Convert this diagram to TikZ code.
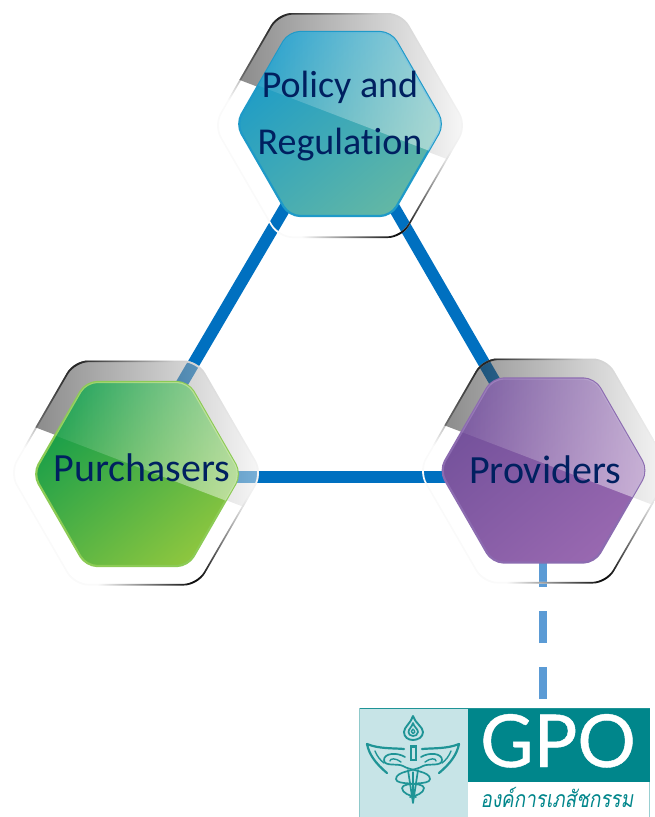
\documentclass[tikz,border=0pt]{standalone}
\usepackage{fontspec}
\usetikzlibrary{fadings}
\setmainfont[Ligatures=CommonOff]{Carlito}
\newfontfamily\logofont[FakeBold=0.6]{Lato}
\newfontfamily\thaifont[Script=Thai,FakeSlant=0.2]{Loma}
\definecolor{linkblue}{HTML}{0070C0}
\definecolor{dashblue}{HTML}{5B9BD5}
\definecolor{navy}{HTML}{002060}
\definecolor{gpoteal}{HTML}{00868B}
\definecolor{gpopale}{HTML}{C7E4E7}
\definecolor{gpoline}{HTML}{1F9496}
\definecolor{bluetl}{HTML}{1B9BC8}
\definecolor{bluebr}{HTML}{62B7A5}
\definecolor{blueed}{HTML}{1E9AC8}
\definecolor{greentl}{HTML}{129C4A}
\definecolor{greenbr}{HTML}{8CC63F}
\definecolor{greened}{HTML}{8CCB55}
\definecolor{purpletl}{HTML}{72509A}
\definecolor{purplebr}{HTML}{9868B0}
\definecolor{purpleed}{HTML}{8C6BB0}
\tikzfading[name=glossfade,left color=transparent!98,middle color=transparent!87,right color=transparent!50]
\def\innerhex{(-104,0) -- (-51,-92) -- (51,-92) -- (104,0) -- (51,92) -- (-51,92) -- cycle}
\def\outerhex{(-127,0) -- (-62,-112.5) -- (62,-112.5) -- (127,0) -- (62,112.5) -- (-62,112.5) -- cycle}
\def\outerhexin{(-125.2,0) -- (-61,-110.9) -- (61,-110.9) -- (125.2,0) -- (61,110.9) -- (-61,110.9) -- cycle}
\def\glossclip{(-135,-58.8) -- (135,44.3) -- (135,-125) -- (-135,-125) -- cycle}
% #1 inner centre, #2 outer centre, #3 top-left colour, #4 bottom-right colour, #5 edge colour
\newcommand{\glasshex}[5]{%
  \begin{scope}[shift={#2}]
    \begin{scope}[even odd rule]
      \clip[rounded corners=14pt] \outerhex \outerhexin;
      \fill[black!2] (-130,-120) rectangle (130,120);
      \shade[inner color=black,outer color=black!2] (-62,-112.5) circle (100);
      \shade[inner color=black,outer color=black!2] (62,112.5) circle (100);
    \end{scope}
    \begin{scope}
      \clip[rounded corners=14pt] \outerhex;
      \clip \glossclip;
      \shade[left color=black,right color=black!5,fill opacity=.5] (-127,-120) rectangle (127,50);
    \end{scope}
  \end{scope}
  \begin{scope}[shift={#1}]
    \shade[rounded corners=11pt,top color=#3,bottom color=#4,shading angle=40] \innerhex;
    \draw[rounded corners=11pt,draw=#5,line width=2.2pt] \innerhex;
    \begin{scope}
      \clip[rounded corners=11pt] \innerhex;
      \clip \glossclip;
      \fill[white,path fading=glossfade] (-104,-92) rectangle (104,50);
    \end{scope}
  \end{scope}}
\tikzset{
  link/.style={draw=linkblue,line width=12pt},
  dashlink/.style={draw=dashblue,line width=8.5pt,dash pattern=on 32pt off 24pt},
  hexlabel/.style={text=navy,font=\fontsize{40}{57}\selectfont,align=center,inner sep=0pt},
  policylabel/.style={hexlabel,font=\fontsize{38}{57}\selectfont},
  snake/.style={draw=gpoline,line width=1.7pt,line cap=round,line join=round}
}
\begin{document}
\begin{tikzpicture}[x=1pt,y=-1pt]
\useasboundingbox (0,0) rectangle (655,817);
\clip (0,0) rectangle (655,817);
\coordinate (policyjoin) at (340,114);
\coordinate (purchjoin) at (127,477);
\coordinate (provjoin) at (550,477);
\coordinate (provdash) at (543,470);
\coordinate (gpodash) at (543,699);
\draw[link] (policyjoin) -- (purchjoin);
\draw[link] (policyjoin) -- (provjoin);
\draw[link] (purchjoin) -- (provjoin);
\draw[dashlink] (gpodash) -- (provdash);

\glasshex{(340,124)}{(340,125.5)}{bluetl}{bluebr}{blueed}
\glasshex{(137,474)}{(136,473)}{greentl}{greenbr}{greened}
\glasshex{(543.5,470.5)}{(545,471)}{purpletl}{purplebr}{purpleed}

\node[policylabel] (policy) at (340,116) {Policy and\\Regulation};
\node[hexlabel,anchor=base] (purchasers) at (142,481) {Purchasers};
\node[hexlabel,anchor=base] (providers) at (545,483) {Providers};

% GPO logo
\fill[white] (359,708) rectangle (650,817);
\fill[gpopale] (359,708) rectangle (468,817);
\fill[gpoteal] (468,708) rectangle (650,782);
\draw[gpoline,line width=1.5pt] (359,708.5) -- (650,708.5);
\draw[gpoline!50,line width=.8pt] (359.4,708) -- (359.4,817);
\draw[gpoteal!40,line width=.6pt] (649.7,782) -- (649.7,817);
\node[text=white,font=\logofont\fontsize{73}{73}\selectfont,inner sep=0pt,anchor=base] (gpo) at (558,767) {GPO};
\node[text=gpoteal,font=\thaifont\fontsize{23}{23}\selectfont,inner sep=0pt,anchor=base,xscale=.82] (gpothai) at (557,807) {องค์การเภสัชกรรม};

% flame
\draw[snake,line width=1.9pt] (413,716) .. controls (415,723) and (423,727) .. (423,732) .. controls (423,737) and (418,740) .. (413,740) .. controls (408,740) and (404,737) .. (404,732) .. controls (404,727) and (411,723) .. (413,716) -- cycle;
\draw[snake] (413,723) .. controls (414,727) and (418,729) .. (418,732) .. controls (418,735) and (415,736) .. (413,736) .. controls (410,736) and (408.5,734) .. (408.5,732) .. controls (408.5,729) and (412,727) .. (413,723);
\draw[snake,line width=1.4pt] (413,729) .. controls (411,730) and (410.5,733) .. (413,733.5) .. controls (415,733.5) and (415.5,731) .. (414,730);
% staff
\fill[gpoline] (409.5,745) rectangle (417,761);
\fill[gpopale] (412,748) rectangle (414.5,759);
\draw[snake] (408,770) -- (413,803) -- (418,770);
\draw[snake,line width=1.2pt] (413,772) -- (413,798);
% wings and snakes, mirrored about the staff
\foreach \s in {-1,1}{
\begin{scope}[shift={(413,0)},xscale=\s]
  \draw[snake,line width=2.2pt] (9,749) .. controls (20,748) and (34,749) .. (46,744) .. controls (44,754) and (38,763) .. (26,773);
  \draw[snake,line width=1.4pt] (38,751) .. controls (36,756) and (33,760) .. (29,763);
  \draw[snake] (8,757) .. controls (16,752) and (29,753) .. (29,760) .. controls (29,767) and (15,763) .. (10,766) .. controls (2,771) and (-17,771) .. (-17,779) .. controls (-17,786) and (10,781) .. (11,788) .. controls (11,793) and (3,796) .. (-3,797);
  \draw[snake,line width=1.4pt] (12,762) .. controls (17,758) and (23,758) .. (23,761);
\end{scope}}
\end{tikzpicture}
\end{document}
